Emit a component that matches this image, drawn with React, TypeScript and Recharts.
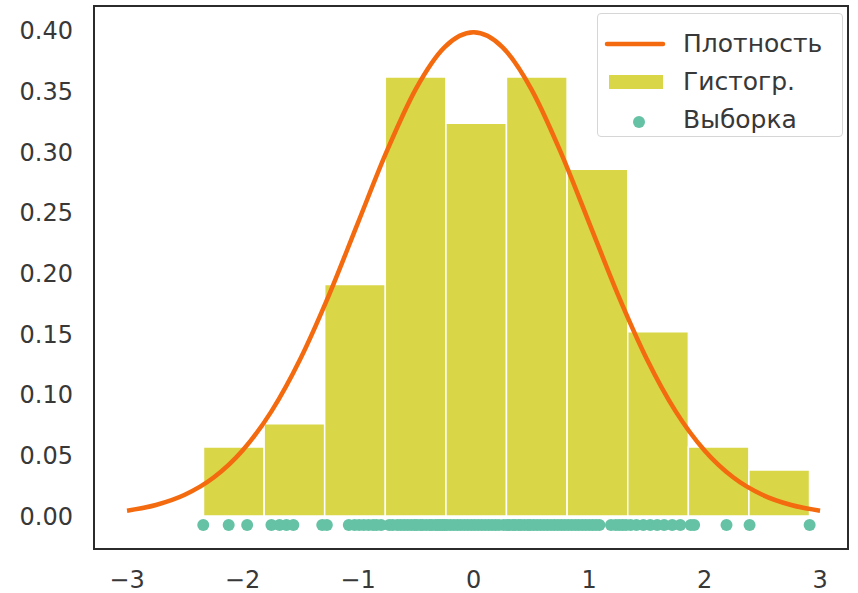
import { ComposedChart, Line, Scatter, XAxis, YAxis, ReferenceArea } from "recharts";

// histogram bins (density-normalised), 100 samples, 10 bins
const binEdges = [-2.338, -1.813, -1.289, -0.764, -0.239, 0.285, 0.81, 1.335, 1.86, 2.384, 2.909];
const binHeights = [0.057, 0.076, 0.191, 0.362, 0.324, 0.362, 0.286, 0.152, 0.057, 0.038];

// density curve
const curveX = [-3, -2.75, -2.5, -2.25, -2, -1.75, -1.5, -1.25, -1, -0.75, -0.5, -0.25, 0, 0.25, 0.5, 0.75, 1, 1.25, 1.5, 1.75, 2, 2.25, 2.5, 2.75, 3];
const curveY = [0.0044, 0.0091, 0.0175, 0.0317, 0.054, 0.0863, 0.1295, 0.1826, 0.242, 0.3011, 0.3521, 0.3867, 0.3989, 0.3867, 0.3521, 0.3011, 0.242, 0.1826, 0.1295, 0.0863, 0.054, 0.0317, 0.0175, 0.0091, 0.0044];

// sample points (drawn just below zero)
const sample = [
  -2.34, -2.12, -1.96,
  -1.75, -1.68, -1.62, -1.56,
  -1.31, -1.27, -1.08, -1.03, -0.99, -0.95, -0.91, -0.87, -0.84, -0.8,
  -0.73, -0.7, -0.66, -0.63, -0.6, -0.57, -0.54, -0.51, -0.49, -0.46, -0.44, -0.41, -0.38, -0.36, -0.33, -0.31, -0.29, -0.27, -0.25,
  -0.23, -0.2, -0.17, -0.14, -0.11, -0.08, -0.05, -0.02, 0.01, 0.04, 0.07, 0.1, 0.13, 0.16, 0.19, 0.22, 0.26,
  0.29, 0.31, 0.34, 0.36, 0.39, 0.41, 0.44, 0.47, 0.49, 0.52, 0.55, 0.58, 0.61, 0.64, 0.67, 0.7, 0.73, 0.76, 0.79,
  0.82, 0.85, 0.88, 0.91, 0.94, 0.97, 1.0, 1.03, 1.06, 1.09, 1.19, 1.23, 1.26, 1.29, 1.32,
  1.36, 1.41, 1.47, 1.53, 1.59, 1.65, 1.72, 1.79,
  1.88, 1.91, 2.19,
  2.39, 2.91,
];
const sampleY = -0.0075;

const xTicks = [-3, -2, -1, 0, 1, 2, 3];
const yTicks = [0, 0.05, 0.1, 0.15, 0.2, 0.25, 0.3, 0.35, 0.4];
const xDomain = [-3.286, 3.242];
const yDomain = [-0.0272, 0.4206];
const legendLabels = ["Плотность", "Гистогр.", "Выборка"];

const FONT = "DejaVu Sans, sans-serif";
const TEXT = "#383838";
const LINE = "#f36a0f";
const HIST = "#d9d648";
const DOT = "#66c2a5";

const curveData = curveX.map((x, i) => ({ x, y: curveY[i] }));
const sampleData = sample.map((x) => ({ x, y: sampleY }));

function LegendBox() {
  return (
    <div
      style={{
        position: "absolute",
        left: 597,
        top: 13,
        width: 246,
        height: 124,
        border: "1px solid #d6d6d6",
        borderRadius: 4,
        background: "rgba(255,255,255,0.85)",
        boxSizing: "border-box",
        paddingTop: 11,
        fontFamily: FONT,
        fontSize: 25,
        color: TEXT,
      }}
    >
      {legendLabels.map((label, i) => (
        <div key={label} style={{ display: "flex", alignItems: "center", height: 38, lineHeight: "38px" }}>
          <svg width={85} height={38} style={{ flex: "none" }}>
            {i === 0 && <line x1={9} x2={65} y1={19} y2={19} stroke={LINE} strokeWidth={4.5} strokeLinecap="round" />}
            {i === 1 && <rect x={11} y={12} width={54} height={14} fill={HIST} />}
            {i === 2 && <circle cx={41} cy={21} r={6} fill={DOT} />}
          </svg>
          <span>{label}</span>
        </div>
      ))}
    </div>
  );
}

export default function App() {
  return (
    <div style={{ position: "absolute", left: 0, top: 0, width: 858, height: 593, background: "#fff" }}>
      <ComposedChart width={858} height={593} margin={{ top: 6, right: 10, bottom: 0, left: 0 }}>
        <XAxis
          type="number"
          dataKey="x"
          domain={xDomain}
          ticks={xTicks}
          allowDataOverflow
          axisLine={false}
          tickLine={false}
          tickMargin={16}
          height={44}
          tick={{ fontFamily: FONT, fontSize: 24, fill: TEXT }}
          tickFormatter={(v) => String(v).replace("-", "\u2212")}
        />
        <YAxis
          type="number"
          domain={yDomain}
          ticks={yTicks}
          allowDataOverflow
          axisLine={false}
          tickLine={false}
          tickMargin={15}
          width={94}
          tick={{ fontFamily: FONT, fontSize: 24, fill: TEXT }}
          tickFormatter={(v) => v.toFixed(2)}
        />
        {binHeights.map((h, i) => (
          <ReferenceArea
            key={i}
            x1={binEdges[i]}
            x2={binEdges[i + 1]}
            y1={0}
            y2={h}
            fill={HIST}
            fillOpacity={1}
            stroke="#ffffff"
            strokeWidth={1.5}
          />
        ))}
        <Line
          data={curveData}
          dataKey="y"
          type="monotone"
          stroke={LINE}
          strokeWidth={4.5}
          dot={false}
          activeDot={false}
          isAnimationActive={false}
        />
        <Scatter
          data={sampleData}
          dataKey="y"
          fill={DOT}
          isAnimationActive={false}
          shape={(p: any) => <circle cx={p.cx} cy={p.cy} r={6} fill={DOT} />}
        />
        <ReferenceArea
          x1={xDomain[0]}
          x2={xDomain[1]}
          y1={yDomain[0]}
          y2={yDomain[1]}
          fill="none"
          stroke="#2b2b2b"
          strokeWidth={2}
          ifOverflow="visible"
        />
      </ComposedChart>
      <LegendBox />
    </div>
  );
}
